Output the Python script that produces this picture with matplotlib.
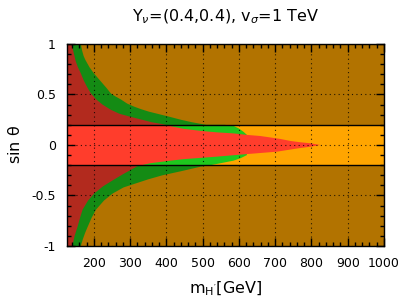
import numpy as np
import matplotlib
matplotlib.use("Agg")
import matplotlib.pyplot as plt
from matplotlib.ticker import MultipleLocator, FixedLocator, FuncFormatter

# ---- data ----
x_min, x_max = 126, 1000
sin_cut = 0.2

# red region: upper and lower boundaries of sin(theta) vs m_H'
red_m     = [126, 138, 142, 146, 150, 156, 164, 172, 182, 192, 207, 224, 246, 270, 300, 333, 360, 392, 420, 448, 494, 540, 585, 622, 659, 686, 714, 742, 769, 797, 824]
red_upper = [1.0, 1.0, 0.95, 0.89, 0.83, 0.77, 0.71, 0.64, 0.57, 0.51, 0.45, 0.40, 0.35, 0.31, 0.28, 0.25, 0.225, 0.205, 0.18, 0.16, 0.14, 0.125, 0.115, 0.10, 0.089, 0.075, 0.06, 0.04, 0.027, 0.017, 0.0]
red_lower_m = [126, 141, 147, 155, 162, 169, 184, 201, 225, 252, 280, 300, 320, 356, 400, 448, 540, 622, 705, 742, 769, 797, 824]
red_lower   = [-1.0, -1.0, -0.90, -0.81, -0.72, -0.64, -0.55, -0.48, -0.41, -0.35, -0.29, -0.25, -0.21, -0.18, -0.16, -0.14, -0.115, -0.09, -0.066, -0.045, -0.03, -0.017, 0.0]

# green region: outer boundaries
green_m     = [126, 164, 168, 172, 177, 188, 200, 212, 224, 236, 247, 260, 275, 292, 311, 330, 352, 380, 408, 440, 471, 494, 510, 560, 585, 599, 613, 622]
green_upper = [1.0, 1.0, 0.93, 0.88, 0.84, 0.77, 0.71, 0.66, 0.61, 0.56, 0.51, 0.48, 0.45, 0.41, 0.38, 0.355, 0.33, 0.305, 0.28, 0.25, 0.225, 0.21, 0.20, 0.20, 0.19, 0.165, 0.13, 0.10]
green_lower_m = [126, 164, 170, 176, 183, 194, 206, 228, 252, 282, 316, 350, 389, 440, 494, 521, 550, 585, 605, 622]
green_lower   = [-1.0, -1.0, -0.93, -0.87, -0.81, -0.72, -0.64, -0.55, -0.48, -0.42, -0.38, -0.34, -0.30, -0.26, -0.215, -0.20, -0.18, -0.155, -0.13, -0.10]

x_ticks = [200, 300, 400, 500, 600, 700, 800, 900, 1000]
y_ticks = [-1, -0.5, 0, 0.5, 1]

c_orange = "#ffa500"
c_red = "#ff3d2c"
c_green = "#1ec81e"

fig = plt.figure(figsize=(4.07, 3.07), dpi=100)
ax = fig.add_axes([0.1646, 0.1987, 0.7789, 0.658])

ax.set_xlim(x_min, x_max)
ax.set_ylim(-1, 1)
ax.set_facecolor(c_orange)

def poly(m_up, s_up, m_lo, s_lo):
    xs = list(m_up) + list(m_lo[::-1])
    ys = list(s_up) + list(s_lo[::-1])
    return xs, ys

gx, gy = poly(green_m, green_upper, green_lower_m, green_lower)
ax.fill(gx, gy, color=c_green, lw=0, zorder=1)
rx, ry = poly(red_m, red_upper, red_lower_m, red_lower)
ax.fill(rx, ry, color=c_red, lw=0, zorder=2)

# darker shading for |sin theta| > cut
ax.axhspan(sin_cut, 1, color="black", alpha=0.30, lw=0, zorder=3)
ax.axhspan(-1, -sin_cut, color="black", alpha=0.30, lw=0, zorder=3)
ax.axhline(sin_cut, color="black", lw=1.0, zorder=4)
ax.axhline(-sin_cut, color="black", lw=1.0, zorder=4)

ax.xaxis.set_major_locator(FixedLocator(x_ticks))
ax.xaxis.set_minor_locator(MultipleLocator(20))
ax.yaxis.set_major_locator(FixedLocator(y_ticks))
ax.yaxis.set_minor_locator(MultipleLocator(0.1))
ax.yaxis.set_major_formatter(FuncFormatter(lambda v, p: "%g" % v))

ax.grid(True, which="major", color="black", linestyle=(0, (1, 3)), lw=0.8, alpha=0.8, zorder=5)
ax.set_axisbelow(False)

ax.tick_params(which="both", direction="in", top=True, right=True, labelsize=9, colors="black")
ax.tick_params(axis="x", which="major", pad=8)
ax.tick_params(axis="y", which="major", pad=8)
ax.tick_params(which="major", length=6, width=1)
ax.tick_params(which="minor", length=3, width=1)
for sp in ax.spines.values():
    sp.set_linewidth(1.0)
    sp.set_zorder(6)

ax.set_title(r"Y$_\nu$=(0.4,0.4), v$_\sigma$=1 TeV", fontsize=11.5, pad=16)
ax.set_xlabel(r"m$_{\mathregular{H'}}$[GeV]", fontsize=11.5, labelpad=7)
ax.set_ylabel(r"sin $\mathregular{\theta}$", fontsize=11.5, labelpad=6)

fig.savefig("out.png", dpi=100)
